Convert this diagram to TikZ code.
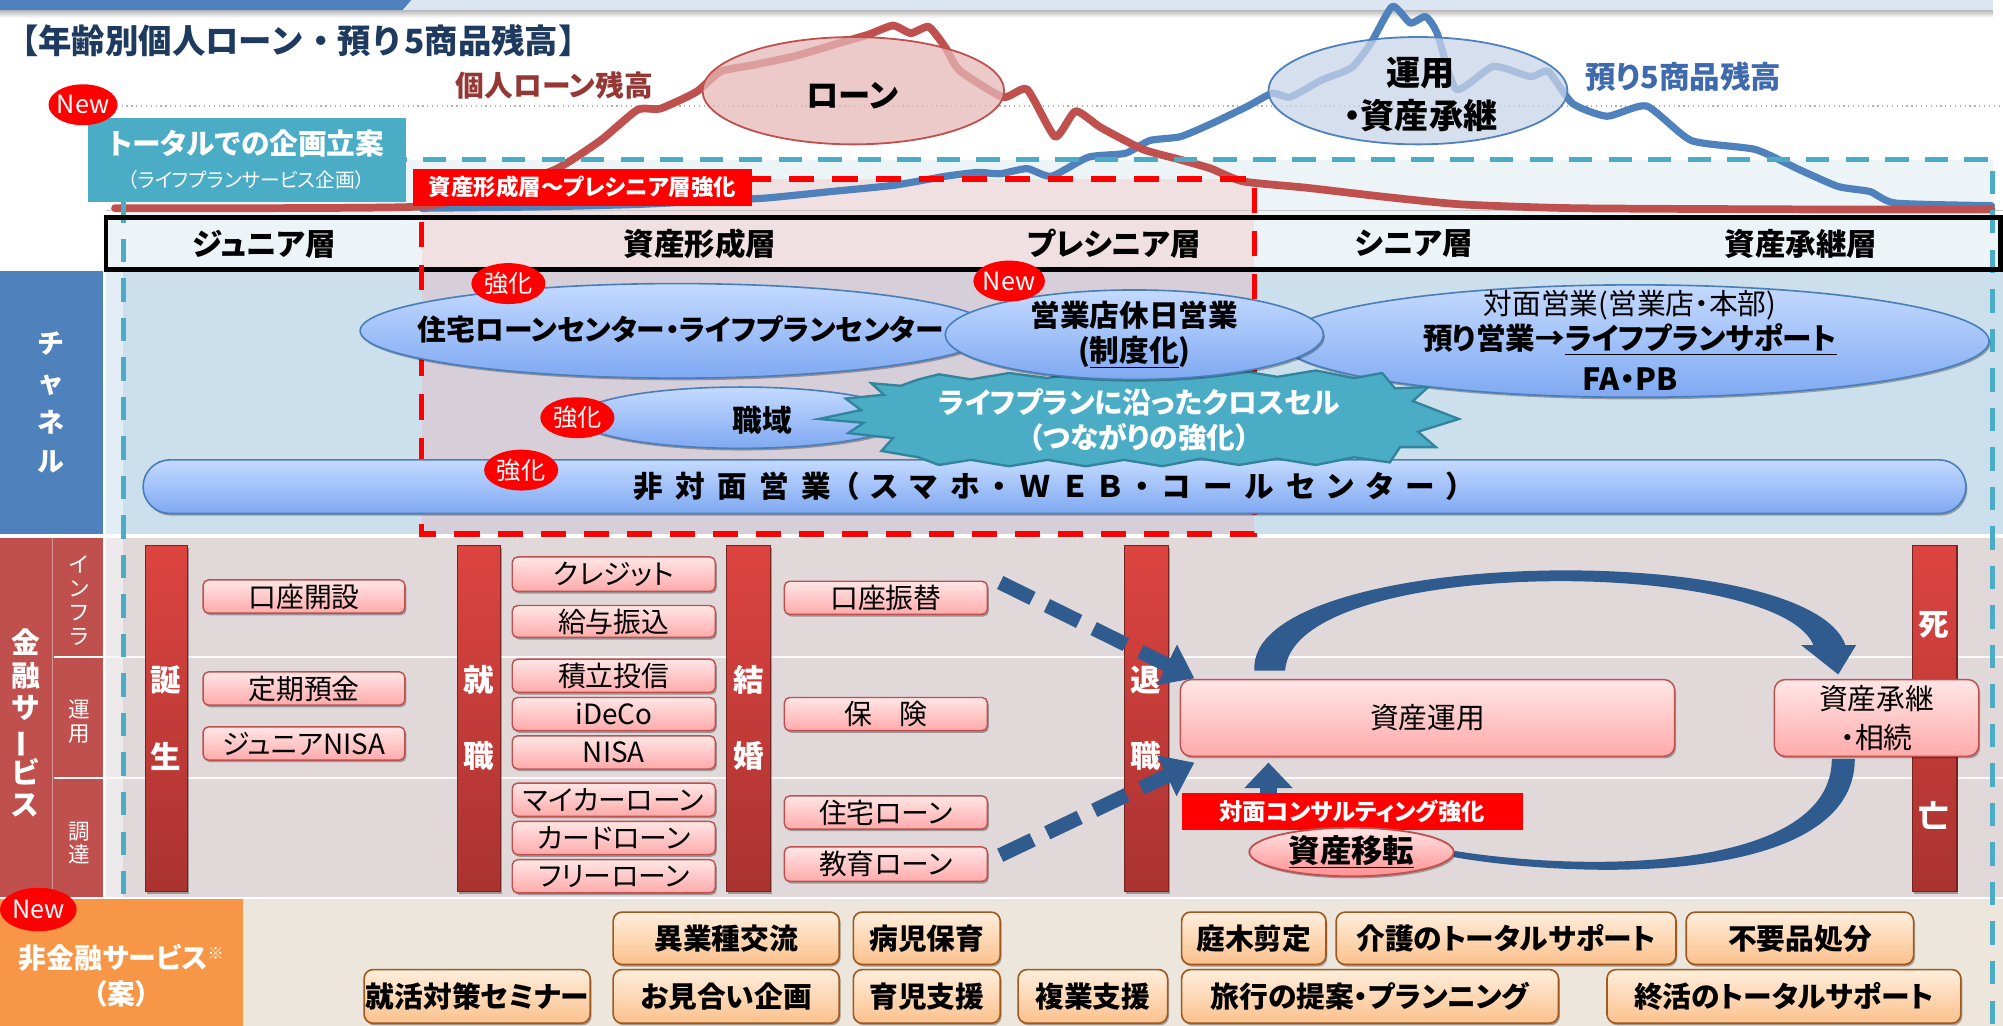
\documentclass[tikz,border=0pt]{standalone}
\usepackage{fontspec}
\setmainfont{Noto Sans CJK JP}[RawFeature={+palt}]
\newfontfamily\fullw{Noto Sans CJK JP}
\usetikzlibrary{shapes.geometric,arrows.meta,shadows}
\newcommand\fs[2]{\fontsize{#1}{#2}\selectfont}
\newcommand\bx[7]{\node[#1, minimum width={(#5-#3)*0.025cm}, minimum height={(#6-#4)*0.025cm}] (#2) at ({(#3+#5)/2},{(#4+#6)/2}) {#7};}
\newcommand\el[6]{\node[#1, minimum width={#5*0.05cm}, minimum height={#6*0.05cm}] (#2) at (#3,#4) {};}
\definecolor{cNavy}{HTML}{1F3A5F}
\definecolor{cLoanTxt}{HTML}{953735}
\definecolor{cDepTxt}{HTML}{3F6BAE}
\definecolor{cRedLine}{HTML}{C0504D}
\definecolor{cBlueLine}{HTML}{4F81BD}
\definecolor{cTeal}{HTML}{4BACC6}
\definecolor{cTealD}{HTML}{31849B}
\definecolor{cChBlue}{HTML}{4F81BD}
\definecolor{cFinRed}{HTML}{C0504D}
\definecolor{cOrange}{HTML}{F79646}
\definecolor{cBgBlue}{HTML}{CCDFEC}
\definecolor{cBgMauve}{HTML}{D6CED9}
\definecolor{cBgFin}{HTML}{E1D8DA}
\definecolor{cBgBeige}{HTML}{EDE6DC}
\definecolor{cBandBlue}{HTML}{ECF4F7}
\definecolor{cBandPink}{HTML}{F1E0E2}
\definecolor{cEllTop}{HTML}{C4DAFF}
\definecolor{cEllBot}{HTML}{7FA9F2}
\definecolor{cEllDraw}{HTML}{4A7EBB}
\definecolor{cPinkT}{HTML}{FFE6E6}
\definecolor{cPinkB}{HTML}{FFAAAA}
\definecolor{cBarT}{HTML}{DD4440}
\definecolor{cBarB}{HTML}{A93330}
\definecolor{cBeigeT}{HTML}{FFEEDD}
\definecolor{cBeigeB}{HTML}{FBC18C}
\definecolor{cBrown}{HTML}{A0581E}
\definecolor{cArrow}{HTML}{2F5B8E}
\definecolor{cHeadL}{HTML}{DCE6F2}
\definecolor{cLoanFill}{HTML}{E6B9B8}
\definecolor{cUnyoFill}{HTML}{C9D5E8}
\tikzset{
  softshadow/.style={drop shadow={shadow xshift=0.8pt, shadow yshift=-1.2pt, opacity=0.3, fill=black}},
  pinkbox/.style={draw=cRedLine, line width=0.8pt, rounded corners=3pt, top color=cPinkT, bottom color=cPinkB, font=\fs{15.5}{18}, softshadow},
  beigebox/.style={draw=cBrown, line width=0.9pt, rounded corners=5pt, top color=cBeigeT, bottom color=cBeigeB, font=\bfseries\fs{16}{18}, softshadow},
  eventbar/.style={draw=cBarB!70!black, line width=0.6pt, top color=cBarT, bottom color=cBarB, softshadow},
  blueell/.style={ellipse, draw=cEllDraw, line width=0.9pt, top color=cEllTop, bottom color=cEllBot, softshadow},
  badge/.style={ellipse, fill=red, text=white, font=\fs{13}{15}},
  bartxt/.style={text=white, font=\bfseries\fs{17}{20}},
  agetxt/.style={font=\bfseries\fs{17}{20}},
  chtxt/.style={font=\bfseries\fs{16.5}{20}},
}
\begin{document}
\begin{tikzpicture}[x=0.025cm,y=-0.025cm, every node/.style={inner sep=0pt,outer sep=0pt}]
\useasboundingbox (0,0) rectangle (1568,803);
\fill[white] (0,0) rectangle (1568,803);
% header strip
\shade[top color=gray!55, bottom color=white] (0,8) rectangle (1560,14);
\fill[cHeadL] (0,0) rectangle (1560,8);
\fill[cChBlue] (0,0) -- (322,0) -- (315,8) -- (0,8) -- cycle;
% title
\node[anchor=west, text=cNavy, font=\fullw\bfseries\fs{18.6}{20}] (title) at (4,32) {【年齢別個人ローン・預り5商品残高】};
% band fills
\fill[cBandBlue] (97,125) rectangle (1560,170);
\fill[cBandPink] (330,140) rectangle (982,170);
\fill[cBandBlue] (83,170) rectangle (1566,211);
\fill[cBandPink] (330,170) rectangle (982,211);
\fill[cBgBlue] (83,213) rectangle (1568,418);
\fill[cBgBlue!55!white] (83,213) rectangle (96,418);
\fill[cBgMauve] (330,213) rectangle (982,418);
\fill[cChBlue] (0,212) rectangle (81,418);
\fill[cBgFin] (83,421) rectangle (1568,702);
\fill[cBgFin!55!white] (83,421) rectangle (96,702);
\fill[cFinRed] (0,421) rectangle (81,702);
\draw[cFinRed!60!white, line width=0.8pt] (41,421) -- (41,702);
\draw[white!85!cBgFin, line width=1.2pt] (42,514) -- (1568,514);
\draw[white!85!cBgFin, line width=1.2pt] (42,609) -- (1568,609);
\fill[cBgBeige] (190,704) rectangle (1568,803);
% chart grid
\draw[gray!60, line width=0.7pt, dotted] (80,83) -- (1568,83);
\draw[gray!45, line width=0.8pt] (83,165) -- (1568,165);
% deposit line
\draw[cBlueLine, line width=4pt, line join=round, line cap=round] plot[smooth, tension=0.35] coordinates {(330,163) (420,162) (500,160) (560,157) (600,155) (650,150) (700,145) (740,138) (765,135) (783,136) (804,132) (823,138) (852,123) (881,120) (900,110) (924,107) (948,97) (977,83) (996,73) (1010,76) (1034,63) (1058,53) (1073,34) (1090,5) (1104,18) (1116,13) (1125,26) (1140,70) (1169,52) (1198,60) (1212,56) (1231,81) (1258,91) (1289,83) (1324,110) (1374,117) (1409,133) (1439,146) (1464,150) (1484,159) (1559,161)};
% loan line
\draw[cRedLine, line width=4.3pt, line join=round, line cap=round] plot[smooth, tension=0.35] coordinates {(90,163) (322,162) (380,150) (434,133) (470,110) (499,86) (517,85) (545,72) (564,56) (589,51) (622,44) (656,34) (680,27) (699,20) (713,26) (727,21) (740,37) (751,55) (785,76) (804,70) (826,107) (842,87) (862,100) (895,117) (924,125) (948,132) (973,142) (1023,147) (1083,154) (1144,160) (1234,163) (1434,164) (1559,164)};
% chart ellipses
\el{ellipse, draw=cRedLine, line width=1pt, fill=cLoanFill, fill opacity=0.75}{loanell}{668}{71}{118}{42}
\node[font=\bfseries\fs{18}{20}] (loantxt) at (667,75) {ローン};
\el{ellipse, draw=cBlueLine, line width=1pt, fill=cUnyoFill, fill opacity=0.75}{unyoell}{1110}{71}{117}{42}
\node[font=\bfseries\fs{19}{24}, align=center] (unyotxt) at (1112,74) {運用\\・資産承継};
\node[text=cLoanTxt, font=\bfseries\fs{16}{18}] (loanlbl) at (434,67) {個人ローン残高};
\node[text=cDepTxt, font=\bfseries\fs{17}{19}] (deplbl) at (1318,60) {預り5商品残高};
% dashed frames
\draw[cTeal, line width=2.8pt, dash pattern=on 13pt off 9pt] (97,125) rectangle (1560,830);
% teal planning box
\bx{fill=cTeal}{totalbox}{69}{92}{318}{158}{}
\node[text=white, font=\bfseries\fs{16}{18}] (totaltxt) at (193,112) {トータルでの企画立案};
\node[text=white, font=\fs{11}{13}] (totalsub) at (193,141) {（ライフプランサービス企画）};
\el{badge}{new1}{65}{82}{27}{16}
\node[text=white, font=\fs{14}{16}] at (new1) {New};
% age row
\draw[black, line width=2.6pt] (83,170) rectangle (1566,211);
\draw[red, line width=3pt, dash pattern=on 14pt off 10pt] (330,140) rectangle (982,418);
\bx{fill=red}{redlabel}{323}{132}{589}{161}{}
\node[text=white, font=\bfseries\fs{12.5}{14}] at (redlabel) {資産形成層～プレシニア層強化};
\node[agetxt] (a1) at (207,191) {ジュニア層};
\node[agetxt] (a2) at (548,191) {資産形成層};
\node[agetxt] (a3) at (872,191) {プレシニア層};
\node[agetxt] (a4) at (1107,191) {シニア層};
\node[agetxt] (a5) at (1410,191) {資産承継層};
% channel section
\node[text=white, font=\bfseries\fs{15}{22}, align=center] (chlbl) at (40,315) {チ\\ャ\\ネ\\ル};
\el{blueell}{jutaku}{530}{259}{248}{37}
\node[font=\bfseries\fs{16}{20}] at (533,258) {住宅ローンセンター・ライフプランセンター};
\el{blueell}{taimen}{1280}{267}{277}{44}
\node[font=\fs{16}{18}] (tm1) at (1276,239) {対面営業(営業店・本部)};
\node[font=\bfseries\fs{16.5}{18}] (tm2) at (1276,266) {預り営業→\underline{ライフプランサポート}};
\node[font=\bfseries\fs{17}{19}] (tm3) at (1276,297) {FA・PB};
\el{blueell}{shokuiki}{580}{327}{128}{24}
\node[chtxt] at (597,329) {職域};
\bx{draw=cEllDraw, line width=0.9pt, top color=cEllTop, bottom color=cEllBot, rounded corners=15pt, softshadow}{hitaimen}{112}{360}{1539}{402}{}
\node[font=\bfseries\fs{16.5}{18}\addfontfeature{LetterSpace=42}] (httxt) at (820,381) {非対面営業（スマホ・ＷＥＢ・コールセンター）};
\filldraw[fill=cTeal, draw=cTealD, line width=1.3pt] (719,297) -- (735,293) -- (760,297) -- (790,292) -- (820,296) -- (850,291) -- (880,295) -- (910,290) -- (940,295) -- (970,290) -- (1000,295) -- (1030,290) -- (1060,296) -- (1082,292) -- (1092,304) -- (1118,303) -- (1106,314) -- (1142,328) -- (1110,338) -- (1124,350) -- (1096,350) -- (1088,362) -- (1060,358) -- (1030,364) -- (1000,359) -- (970,364) -- (940,359) -- (910,365) -- (880,360) -- (850,365) -- (820,360) -- (790,365) -- (760,360) -- (735,364) -- (719,358) -- (690,353) -- (699,343) -- (664,339) -- (676,331) -- (641,328) -- (674,321) -- (662,312) -- (692,309) -- (682,300) -- (705,302) -- cycle;
\node[text=white, font=\bfseries\fs{16}{18}] (cross1) at (892,315) {ライフプランに沿ったクロスセル};
\node[text=white, font=\bfseries\fs{16}{18}] (cross2) at (892,342) {（つながりの強化）};
\el{blueell}{kyujitsu}{888}{262}{148}{35}
\node[chtxt] (kj1) at (888,247) {営業店休日営業};
\node[chtxt] (kj2) at (888,276) {(\underline{制度化})};
\el{badge}{b1}{398}{222}{29}{16}
\node[text=white, font=\fs{13.5}{15}] at (b1) {強化};
\el{badge}{b2}{452}{327}{29}{16}
\node[text=white, font=\fs{13.5}{15}] at (b2) {強化};
\el{badge}{b3}{408}{368}{29}{16}
\node[text=white, font=\fs{13.5}{15}] at (b3) {強化};
\el{badge}{new2}{790}{220}{28}{16}
\node[text=white, font=\fs{14}{16}] at (new2) {New};
% financial services labels
\node[text=white, font=\bfseries\fs{16}{18}, align=center] (finlbl) at (20,566) {金\\融\\サ\\\rotatebox[origin=c]{90}{ー}\\ビ\\ス};
\node[text=white, font=\fs{12}{13.5}, align=center] (inf) at (62,470) {イ\\ン\\フ\\ラ};
\node[text=white, font=\fs{12}{13}, align=center] (unl) at (62,565) {運\\用};
\node[text=white, font=\fs{12}{13}, align=center] (chl) at (62,660) {調\\達};
% life event bars
\bx{eventbar}{bar1}{114}{427}{147}{698}{}
\bx{eventbar}{bar2}{358}{427}{392}{698}{}
\bx{eventbar}{bar3}{569}{427}{603}{698}{}
\bx{eventbar}{bar4}{880}{427}{915}{698}{}
\bx{eventbar}{bar5}{1497}{427}{1532}{698}{}
\node[bartxt] at (130,532) {誕};
\node[bartxt] at (130,592) {生};
\node[bartxt] at (375,532) {就};
\node[bartxt] at (375,592) {職};
\node[bartxt] at (586,532) {結};
\node[bartxt] at (586,592) {婚};
\node[bartxt] at (897,532) {退};
\node[bartxt] at (897,592) {職};
\node[bartxt] at (1514,489) {死};
\node[bartxt] at (1514,638) {亡};
% product boxes
\bx{pinkbox}{kaisetsu}{159}{454}{317}{480}{口座開設}
\bx{pinkbox}{teiki}{159}{526}{317}{552}{定期預金}
\bx{pinkbox}{jrnisa}{159}{569}{317}{595}{ジュニアNISA}
\bx{pinkbox}{credit}{401}{436}{560}{463}{クレジット}
\bx{pinkbox}{kyuyo}{401}{474}{560}{499}{給与振込}
\bx{pinkbox}{tsumitate}{401}{516}{560}{542}{積立投信}
\bx{pinkbox}{ideco}{401}{546}{560}{572}{iDeCo}
\bx{pinkbox}{nisa}{401}{576}{560}{602}{NISA}
\bx{pinkbox}{mycar}{401}{613}{560}{639}{マイカーローン}
\bx{pinkbox}{card}{401}{643}{560}{669}{カードローン}
\bx{pinkbox}{free}{401}{673}{560}{699}{フリーローン}
\bx{pinkbox}{kfurikae}{614}{455}{773}{481}{口座振替}
\bx{pinkbox}{hoken}{614}{546}{773}{572}{保　険}
\bx{pinkbox}{jloan}{614}{623}{773}{649}{住宅ローン}
\bx{pinkbox}{kyoiku}{614}{663}{773}{690}{教育ローン}
\bx{pinkbox, rounded corners=6pt, font=\fs{16}{18}}{unyo}{924}{532}{1311}{592}{資産運用}
\bx{pinkbox, rounded corners=6pt, font=\fs{16}{22}, align=center}{shokei}{1389}{532}{1549}{592}{資産承継\\・相続}
% arrows
\draw[cArrow, line width=8pt, dash pattern=on 20pt off 9pt, -{Triangle[width=24pt,length=17pt]}] ([shift={(10,-12)}]kfurikae.east) -- ([shift={(11,-1)}]unyo.north west);
\draw[cArrow, line width=8pt, dash pattern=on 20pt off 9pt, -{Triangle[width=24pt,length=17pt]}] ([shift={(10,-7)}]kyoiku.east) -- ([shift={(11,5)}]unyo.south west);
\fill[cArrow] (982,525) .. controls (975,428) and (1418,420) .. (1445,506) -- (1420,506) .. controls (1395,436) and (1012,434) .. (1006,525) -- cycle;
\fill[cArrow] (1410,505) -- (1453,505) -- (1439,528) -- cycle;
\fill[cArrow] (1452,594) .. controls (1452,690) and (1250,690) .. (1138,671) -- (1138,666) .. controls (1250,684) and (1434,680) .. (1434,594) -- cycle;
\fill[cArrow] (986,615) rectangle (1000,626);
\fill[cArrow] (974,617) -- (1012,617) -- (993,597) -- cycle;
\bx{fill=red}{consul}{925}{621}{1192}{650}{}
\node[text=white, font=\bfseries\fs{13}{15}] at (consul) {対面コンサルティング強化};
\el{ellipse, draw=cRedLine, line width=1pt, top color=cPinkT, bottom color=cPinkB!85!red, softshadow}{iten}{1058}{667}{80}{19}
\node[font=\bfseries\fs{17.5}{19}] at (iten) {\underline{資産移転}};
% non-financial section
\fill[cOrange] (0,704) rectangle (190,803);
\el{badge}{new3}{30}{712}{30}{17}
\node[text=white, font=\fs{14}{16}] at (new3) {New};
\node[text=white, font=\bfseries\fs{15.5}{18}] (nf1) at (95,750) {非金融サービス\raisebox{0.6ex}{\fs{9}{10}※}};
\node[text=white, font=\bfseries\fs{15.5}{18}] (nf2) at (95,778) {（案）};
\bx{beigebox}{n1}{480}{714}{657}{755}{異業種交流}
\bx{beigebox}{n2}{668}{714}{783}{755}{病児保育}
\bx{beigebox}{n3}{925}{714}{1038}{755}{庭木剪定}
\bx{beigebox}{n4}{1046}{714}{1312}{755}{介護のトータルサポート}
\bx{beigebox}{n5}{1320}{714}{1498}{755}{不要品処分}
\bx{beigebox}{n6}{285}{759}{462}{801}{就活対策セミナー}
\bx{beigebox}{n7}{480}{759}{657}{801}{お見合い企画}
\bx{beigebox}{n8}{668}{759}{783}{801}{育児支援}
\bx{beigebox}{n9}{797}{759}{914}{801}{複業支援}
\bx{beigebox}{n10}{925}{759}{1220}{801}{旅行の提案・プランニング}
\bx{beigebox}{n11}{1258}{759}{1535}{801}{終活のトータルサポート}
\end{tikzpicture}
\end{document}
